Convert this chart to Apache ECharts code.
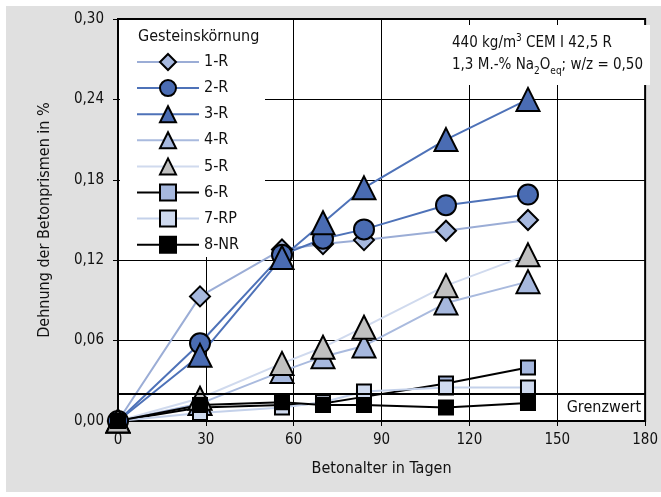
<!DOCTYPE html>
<html><head><meta charset="utf-8">
<script src="https://cdn.jsdelivr.net/npm/echarts@6/dist/echarts.min.js"></script>
<style>html,body{margin:0;padding:0;background:#fff}#c{width:661px;height:497px}</style>
</head><body><div id="c"></div>
<script>
const days = [0, 28, 56, 70, 84, 112, 140];
const seriesNames = ['1-R','2-R','3-R','4-R','5-R','6-R','7-RP','8-NR'];
const v1R  = [0, 0.093, 0.128, 0.132, 0.135, 0.142, 0.150];
const v2R  = [0, 0.058, 0.124, 0.136, 0.143, 0.161, 0.169];
const v3R  = [0, 0.049, 0.122, 0.148, 0.174, 0.210, 0.240];
const v4R  = [0, 0.013, 0.037, 0.048, 0.056, 0.088, 0.104];
const v5R  = [0, 0.017, 0.043, 0.055, 0.070, 0.101, 0.124];
const v6R  = [0, 0.010, 0.012, 0.013, 0.018, 0.028, 0.040];
const v7RP = [0, 0.006, 0.010, 0.014, 0.022, 0.025, 0.025];
const v8NR = [0, 0.012, 0.014, 0.012, 0.012, 0.010, 0.0135];
const grenzwert = 0.02;
const xTicks = [0, 30, 60, 90, 120, 150, 180];
const yTicks = [0, 0.06, 0.12, 0.18, 0.24, 0.30];

const F = "'Liberation Sans Narrow','Arial Narrow','DejaVu Sans Condensed',sans-serif";
const values = [v1R, v2R, v3R, v4R, v5R, v6R, v7RP, v8NR];
const styles = [
  {sym:'diamond', size:20, line:'#9badd6', fill:'#a6b8de'},
  {sym:'circle', size:20, line:'#4e72b8', fill:'#4a6cb3'},
  {sym:'triangle', size:23, line:'#4e72b8', fill:'#4a6cb3'},
  {sym:'triangle', size:23, line:'#a9bade', fill:'#a6b8de'},
  {sym:'triangle', size:23, line:'#d0daee', fill:'#c0c0c0'},
  {sym:'rect', size:14, line:'#000000', fill:'#a6b8de'},
  {sym:'rect', size:14, line:'#c4d1ea', fill:'#cfdaef'},
  {sym:'rect', size:14, line:'#000000', fill:'#000000'}
];
const series = seriesNames.map((n, i) => ({
  name: n, type: 'line',
  data: days.map((d, j) => [d, values[i][j]]),
  symbol: styles[i].sym, symbolSize: styles[i].size,
  lineStyle: {color: styles[i].line, width: 2},
  itemStyle: {color: styles[i].fill, borderColor: '#000', borderWidth: 2},
  emphasis: {disabled: true}, animation: false, z: 3
}));
series.push({
  type: 'line', data: [], silent: true, animation: false,
  markLine: {
    silent: true, symbol: 'none', animation: false,
    lineStyle: {color: '#000', width: 2, type: 'solid'},
    label: {show: true, position: 'insideEndBottom', formatter: 'Grenzwert', color: '#111', fontFamily: F, fontSize: 16, distance: [4, 6]},
    data: [{yAxis: grenzwert}]
  }
});

const chart = echarts.init(document.getElementById('c'), null, {renderer: 'canvas'});
chart.setOption({
  animation: false,
  backgroundColor: '#ffffff',
  textStyle: {fontFamily: F},
  grid: {left: 118, right: 9, top: 19, bottom: 76, show: true, backgroundColor: '#ffffff', borderColor: '#000', borderWidth: 2},
  xAxis: {
    type: 'value', min: xTicks[0], max: xTicks[xTicks.length-1], interval: 30,
    name: 'Betonalter in Tagen', nameLocation: 'middle', nameGap: 40,
    nameTextStyle: {fontFamily: F, fontSize: 16, color: '#111'},
    axisLine: {show: true, lineStyle: {color: '#000', width: 2}},
    axisTick: {show: true, length: 5, lineStyle: {color: '#000', width: 1}},
    axisLabel: {fontFamily: F, fontSize: 15, color: '#111', margin: 12},
    splitLine: {show: true, lineStyle: {color: '#000', width: 1}}
  },
  yAxis: {
    type: 'value', min: yTicks[0], max: yTicks[yTicks.length-1], interval: 0.06,
    name: 'Dehnung der Betonprismen in %', nameLocation: 'middle', nameGap: 65,
    nameTextStyle: {fontFamily: F, fontSize: 16, color: '#111'},
    axisLine: {show: true, lineStyle: {color: '#000', width: 2}},
    axisTick: {show: true, length: 5, lineStyle: {color: '#000', width: 1}},
    axisLabel: {fontFamily: F, fontSize: 15, color: '#111', margin: 14,
      formatter: v => v.toFixed(2).replace('.', ',')},
    splitLine: {show: true, lineStyle: {color: '#000', width: 1}}
  },
  legend: {
    show: true, orient: 'vertical', left: 136, top: 53, padding: 0,
    itemWidth: 62, itemHeight: 20, itemGap: 8.1,
    textStyle: {fontFamily: F, fontSize: 16, color: '#111'},
    data: seriesNames, selectedMode: false
  },
  graphic: [
    {type: 'rect', z: -100, silent: true, shape: {x: 6, y: 6, width: 655, height: 486}, style: {fill: '#e0e0e0'}},
    {type: 'rect', z: 1, silent: true, shape: {x: 120, y: 20, width: 145, height: 237}, style: {fill: '#ffffff'}},
    {type: 'rect', z: 1, silent: true, shape: {x: 446, y: 25, width: 204, height: 60}, style: {fill: '#ffffff'}},
    {type: 'text', z: 10, silent: true, left: 138, top: 29, style: {text: 'Gesteinskörnung', font: '16px ' + F, fill: '#111'}},
    {type: 'text', z: 10, silent: true, left: 452, top: 31, style: {
      text: '{n|440 kg/m}{sup|3}{n| CEM I 42,5 R}',
      rich: {n: {fontFamily: F, fontSize: 15, fill: '#111', lineHeight: 20, verticalAlign: 'bottom'},
             sup: {fontFamily: F, fontSize: 10, fill: '#111', lineHeight: 20, verticalAlign: 'top', padding: [2,0,0,0]}}
    }},
    {type: 'text', z: 10, silent: true, left: 452, top: 58, style: {
      text: '{n|1,3 M.-% Na}{sub|2}{n|O}{sub|eq}{n|; w/z = 0,50}',
      rich: {n: {fontFamily: F, fontSize: 15, fill: '#111', lineHeight: 20, verticalAlign: 'bottom'},
             sub: {fontFamily: F, fontSize: 10, fill: '#111', lineHeight: 20, verticalAlign: 'bottom', padding: [0,0,-3,0]}}
    }}
  ],
  series: series
});
</script></body></html>
